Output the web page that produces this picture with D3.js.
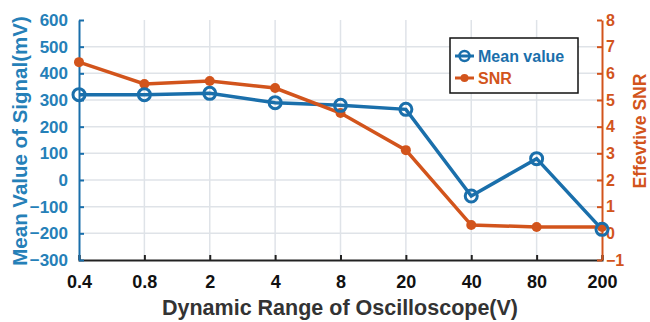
<!DOCTYPE html>
<html>
<head>
<meta charset="utf-8">
<script src="https://cdn.jsdelivr.net/npm/d3@7"></script>
<style>
  body { margin: 0; background: #fff; }
  text { font-family: "Liberation Sans", Arial, sans-serif; font-weight: bold; }
</style>
</head>
<body>
<div id="vis"></div>
<script>
const ranges = ["0.4", "0.8", "2", "4", "8", "20", "40", "80", "200"];
const meanValue = [320, 320, 325, 290, 280, 265, -60, 80, -185];
const snr = [6.42, 5.6, 5.71, 5.45, 4.51, 3.12, 0.31, 0.24, 0.24];
const leftTicks = [-300, -200, -100, 0, 100, 200, 300, 400, 500, 600];
const rightTicks = [-1, 0, 1, 2, 3, 4, 5, 6, 7, 8];

const width = 650, height = 322;
const margin = {left: 79, right: 48, top: 20, bottom: 62};
const blue = "#1a6fab", orange = "#d2541c";

const svg = d3.select("#vis").append("svg")
  .attr("width", width).attr("height", height);

const x = d3.scalePoint().domain(ranges).range([margin.left, width - margin.right]);
const yL = d3.scaleLinear().domain([-300, 600]).range([height - margin.bottom, margin.top]);
const yR = d3.scaleLinear().domain([-1, 8]).range([height - margin.bottom, margin.top]);

// grid
svg.append("g").selectAll("line").data(leftTicks.slice(1, -1)).enter().append("line")
  .attr("x1", margin.left).attr("x2", width - margin.right)
  .attr("y1", d => yL(d)).attr("y2", d => yL(d))
  .attr("stroke", "#dfe3e8").attr("stroke-width", 1.5);
svg.append("g").selectAll("line").data(ranges.slice(1, -1)).enter().append("line")
  .attr("x1", d => x(d)).attr("x2", d => x(d))
  .attr("y1", margin.top).attr("y2", height - margin.bottom)
  .attr("stroke", "#dfe3e8").attr("stroke-width", 1.5);

// axes
const gx = svg.append("g").attr("transform", `translate(0,${height - margin.bottom})`)
  .call(d3.axisBottom(x).tickSize(-5).tickPadding(15));
gx.select(".domain").attr("stroke", "#222").attr("stroke-width", 2);
gx.selectAll(".tick line").attr("stroke", "#222").attr("stroke-width", 2);
gx.selectAll("text").attr("font-size", 18).attr("fill", "#111");

const gl = svg.append("g").attr("transform", `translate(${margin.left},0)`)
  .call(d3.axisLeft(yL).tickValues(leftTicks).tickSize(-5).tickPadding(11).tickSizeOuter(0));
gl.select(".domain").attr("stroke", blue).attr("stroke-width", 2);
gl.selectAll(".tick line").attr("stroke", blue).attr("stroke-width", 2);
gl.selectAll("text").attr("font-size", 17).attr("fill", "#2580b8");

const gr = svg.append("g").attr("transform", `translate(${width - margin.right},0)`)
  .call(d3.axisRight(yR).tickValues(rightTicks).tickSize(-5).tickPadding(4).tickSizeOuter(0));
gr.select(".domain").attr("stroke", orange).attr("stroke-width", 2);
gr.selectAll(".tick line").attr("stroke", orange).attr("stroke-width", 2);
gr.selectAll("text").attr("font-size", 16).attr("fill", orange);

// axis titles
svg.append("text").attr("transform", `translate(27,141) rotate(-90)`)
  .attr("text-anchor", "middle").attr("font-size", 20.5).attr("fill", "#2580b8")
  .text("Mean Value of Signal(mV)");
svg.append("text").attr("transform", `translate(646,131) rotate(-90)`)
  .attr("text-anchor", "middle").attr("font-size", 17.5).attr("fill", orange)
  .text("Effevtive SNR");
svg.append("text").attr("x", 340).attr("y", 315)
  .attr("text-anchor", "middle").attr("font-size", 21.5).attr("fill", "#333")
  .text("Dynamic Range of Oscilloscope(V)");

// lines
const snrLine = d3.line().x((d, i) => x(ranges[i])).y(d => yR(d));
const meanLine = d3.line().x((d, i) => x(ranges[i])).y(d => yL(d));

svg.append("path").datum(meanValue).attr("d", meanLine)
  .attr("fill", "none").attr("stroke", blue).attr("stroke-width", 3.5);
svg.append("path").datum(snr).attr("d", snrLine)
  .attr("fill", "none").attr("stroke", orange).attr("stroke-width", 3.5);

svg.append("g").selectAll("circle").data(snr).enter().append("circle")
  .attr("cx", (d, i) => x(ranges[i])).attr("cy", d => yR(d)).attr("r", 5)
  .attr("fill", orange);
svg.append("g").selectAll("circle").data(meanValue).enter().append("circle")
  .attr("cx", (d, i) => x(ranges[i])).attr("cy", d => yL(d)).attr("r", 6)
  .attr("fill", "none").attr("stroke", blue).attr("stroke-width", 3);

// legend
const lg = svg.append("g").attr("transform", "translate(450,38)");
lg.append("rect").attr("width", 128).attr("height", 55)
  .attr("fill", "#fff").attr("stroke", "#111").attr("stroke-width", 1.5);
lg.append("line").attr("x1", 5).attr("x2", 24).attr("y1", 18).attr("y2", 18)
  .attr("stroke", blue).attr("stroke-width", 3);
lg.append("circle").attr("cx", 14.5).attr("cy", 18).attr("r", 5)
  .attr("fill", "none").attr("stroke", blue).attr("stroke-width", 2.5);
lg.append("text").attr("x", 28).attr("y", 24).attr("font-size", 16).attr("fill", blue).text("Mean value");
lg.append("line").attr("x1", 5).attr("x2", 24).attr("y1", 40).attr("y2", 40)
  .attr("stroke", orange).attr("stroke-width", 3);
lg.append("circle").attr("cx", 14.5).attr("cy", 40).attr("r", 4).attr("fill", orange);
lg.append("text").attr("x", 28).attr("y", 46).attr("font-size", 16).attr("fill", orange).text("SNR");
</script>
</body>
</html>
